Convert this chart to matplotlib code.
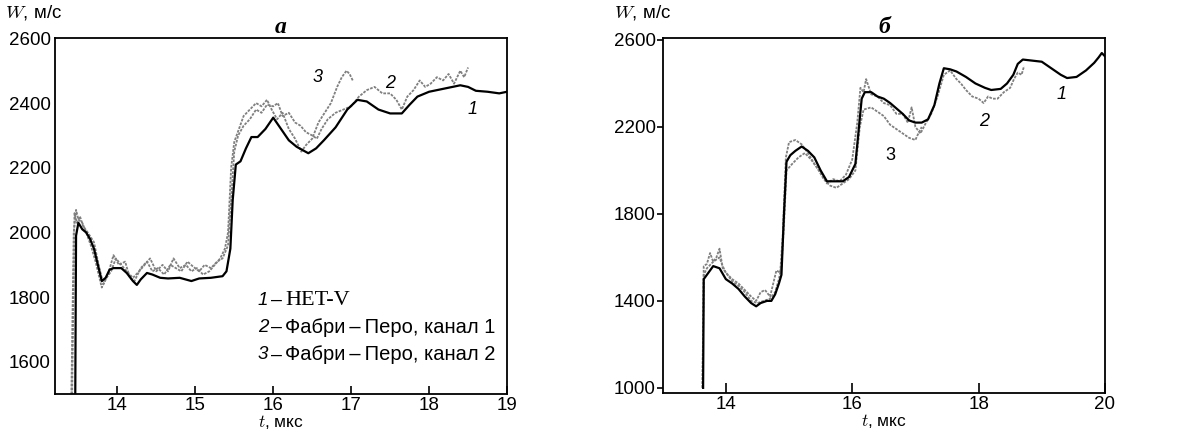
import numpy as np
import matplotlib.pyplot as plt

plt.rcParams['font.family'] = ['Liberation Sans', 'DejaVu Sans']
plt.rcParams['mathtext.fontset'] = 'cm'

# ---- panel a ----
t1a = [13.46, 13.47, 13.5, 13.55, 13.6, 13.65, 13.7, 13.75, 13.8, 13.85,
       13.9, 13.95, 14.05, 14.12, 14.2, 14.25, 14.3, 14.38, 14.45, 14.55,
       14.65, 14.8, 14.95, 15.05, 15.2, 15.35, 15.4, 15.45, 15.48, 15.52,
       15.58, 15.65, 15.72, 15.8, 15.9, 16.0, 16.1, 16.2, 16.3, 16.45,
       16.55, 16.65, 16.8, 16.95, 17.08, 17.2, 17.35, 17.5, 17.65, 17.75,
       17.85, 18.0, 18.2, 18.4, 18.5, 18.6, 18.75, 18.9, 19.0]
W1a = [1500, 1990, 2030, 2010, 2000, 1980, 1950, 1900, 1850, 1860,
       1885, 1890, 1890, 1875, 1850, 1838, 1855, 1875, 1870, 1860,
       1858, 1860, 1850, 1858, 1860, 1865, 1880, 1950, 2100, 2210,
       2220, 2260, 2295, 2295, 2320, 2355, 2320, 2285, 2265, 2245,
       2260, 2285, 2325, 2380, 2410, 2405, 2380, 2368, 2368, 2395,
       2420, 2435, 2445, 2455, 2450, 2438, 2435, 2430, 2435]

t2a = [13.42, 13.45, 13.48, 13.52, 13.56, 13.62, 13.7, 13.76, 13.82, 13.88,
       13.95, 14.02, 14.1, 14.16, 14.22, 14.3, 14.38, 14.45, 14.52, 14.6,
       14.68, 14.75, 14.82, 14.9, 14.97, 15.05, 15.12, 15.2, 15.28, 15.35,
       15.42, 15.46, 15.5, 15.55, 15.62, 15.7, 15.78, 15.85, 15.92, 16.0,
       16.06, 16.12, 16.2, 16.28, 16.35, 16.42, 16.5, 16.56, 16.62, 16.7,
       16.8, 16.9, 17.0, 17.1, 17.2, 17.3, 17.4, 17.5, 17.58, 17.65,
       17.72, 17.8, 17.88, 17.95, 18.02, 18.1, 18.18, 18.25, 18.32, 18.4, 18.45, 18.5]
W2a = [1500, 2060, 2030, 2050, 2020, 2000, 1970, 1900, 1840, 1870,
       1930, 1900, 1910, 1860, 1850, 1890, 1910, 1880, 1890, 1870,
       1900, 1890, 1880, 1910, 1895, 1880, 1900, 1890, 1910, 1920,
       1960, 2100, 2250, 2300, 2330, 2350, 2380, 2370, 2395, 2390,
       2400, 2360, 2370, 2340, 2330, 2310, 2300, 2290, 2320, 2350,
       2370, 2380, 2390, 2420, 2440, 2450, 2430, 2430, 2410, 2380,
       2420, 2440, 2470, 2450, 2460, 2480, 2470, 2490, 2460, 2500, 2480, 2510]

t3a = [13.41, 13.44, 13.47, 13.5, 13.55, 13.6, 13.66, 13.72, 13.8, 13.86,
       13.92, 13.98, 14.05, 14.12, 14.2, 14.28, 14.35, 14.42, 14.5, 14.58,
       14.65, 14.72, 14.8, 14.88, 14.95, 15.02, 15.1, 15.18, 15.25, 15.32,
       15.38, 15.42, 15.46, 15.5, 15.56, 15.62, 15.7, 15.78, 15.85, 15.92,
       15.98, 16.05, 16.12, 16.2, 16.28, 16.36, 16.42, 16.5, 16.58, 16.66,
       16.74, 16.82, 16.88, 16.94, 16.98, 17.02]
W3a = [1500, 2000, 2070, 2040, 2030, 2000, 1960, 1910, 1830, 1860,
       1880, 1920, 1900, 1880, 1860, 1880, 1900, 1920, 1880, 1900,
       1880, 1920, 1890, 1900, 1880, 1890, 1870, 1880, 1900, 1920,
       1950, 2000, 2200, 2280, 2320, 2360, 2380, 2400, 2390, 2410,
       2380, 2350, 2370, 2320, 2290, 2250, 2270, 2290, 2340, 2370,
       2400, 2450, 2480, 2500, 2490, 2470]

# ---- panel b ----
t1b = [13.64, 13.65, 13.7, 13.8, 13.9, 14.0, 14.1, 14.2, 14.3, 14.4,
       14.48, 14.55, 14.65, 14.72, 14.78, 14.84, 14.88, 14.92, 14.96, 15.02,
       15.1, 15.2, 15.3, 15.4, 15.5, 15.6, 15.7, 15.85, 15.95, 16.05,
       16.1, 16.15, 16.2, 16.3, 16.4, 16.5, 16.6, 16.7, 16.8, 16.9,
       17.0, 17.1, 17.2, 17.3, 17.38, 17.45, 17.55, 17.65, 17.8, 17.95,
       18.1, 18.2, 18.35, 18.45, 18.55, 18.62, 18.7, 18.85, 19.0, 19.15,
       19.3, 19.4, 19.55, 19.7, 19.83, 19.9, 19.95, 20.0]
W1b = [1000, 1500, 1520, 1560, 1550, 1500, 1480, 1455, 1420, 1390,
       1375, 1390, 1400, 1400, 1430, 1480, 1520, 1800, 2040, 2070,
       2090, 2110, 2090, 2060, 2000, 1950, 1950, 1950, 1970, 2030,
       2180, 2330, 2360, 2360, 2340, 2330, 2310, 2285, 2260, 2230,
       2220, 2220, 2235, 2300, 2400, 2470, 2465, 2455, 2430, 2400,
       2380, 2370, 2375, 2400, 2440, 2490, 2510, 2505, 2500, 2470,
       2440, 2425, 2430, 2460, 2495, 2520, 2540, 2525]

t2b = [13.63, 13.65, 13.7, 13.75, 13.8, 13.85, 13.9, 13.95, 14.0, 14.1,
       14.2, 14.3, 14.4, 14.48, 14.55, 14.62, 14.7, 14.75, 14.8, 14.86,
       14.9, 14.95, 15.0, 15.1, 15.2, 15.3, 15.4, 15.5, 15.6, 15.7,
       15.8, 15.9, 16.0, 16.08, 16.13, 16.18, 16.22, 16.3, 16.4, 16.5,
       16.6, 16.7, 16.8, 16.88, 16.94, 17.0, 17.08, 17.15, 17.25, 17.35,
       17.45, 17.55, 17.65, 17.72, 17.8, 17.9, 18.0, 18.08, 18.15, 18.22,
       18.3, 18.4, 18.5, 18.56, 18.62, 18.68, 18.72]
W2b = [1000, 1560, 1570, 1620, 1580, 1600, 1640, 1550, 1530, 1500,
       1480, 1450, 1420, 1400, 1440, 1450, 1420, 1480, 1540, 1530,
       1700, 2060, 2130, 2140, 2120, 2080, 2030, 1990, 1940, 1960,
       1950, 1980, 2050, 2220, 2380, 2360, 2420, 2350, 2340, 2310,
       2300, 2260, 2260, 2220, 2290, 2200, 2170, 2210, 2260, 2340,
       2440, 2460, 2420, 2400, 2370, 2340, 2330, 2310, 2340, 2330,
       2330, 2360, 2380, 2420, 2450, 2440, 2480]

t3b = [13.63, 13.65, 13.7, 13.8, 13.9, 13.95, 14.0, 14.1, 14.2, 14.3,
       14.4, 14.5, 14.6, 14.7, 14.78, 14.84, 14.88, 14.92, 14.96, 15.05,
       15.15, 15.25, 15.35, 15.45, 15.55, 15.65, 15.75, 15.85, 15.95, 16.05,
       16.12, 16.18, 16.3, 16.4, 16.5, 16.6, 16.7, 16.8, 16.9, 17.0,
       17.03, 17.1]
W3b = [1000, 1520, 1550, 1580, 1600, 1560, 1530, 1490, 1470, 1440,
       1400, 1390, 1400, 1410, 1440, 1500, 1560, 1750, 2000, 2030,
       2060, 2080, 2050, 2010, 1960, 1930, 1920, 1940, 1960, 2000,
       2200, 2280, 2290, 2270, 2250, 2210, 2190, 2170, 2150, 2140,
       2160, 2200]

legend_lines = ["HET-V", "Фабри\u2009\u2013\u2009Перо, канал 1", "Фабри\u2009\u2013\u2009Перо, канал 2"]

fig = plt.figure(figsize=(11.88, 4.33), dpi=100)
axa = fig.add_axes([0.0463, 0.0894, 0.3805, 0.822])
axb = fig.add_axes([0.5578, 0.0917, 0.3723, 0.821])

gray = dict(color='0.5', lw=1.3, ls=(0, (1.5, 0.7)))
black = dict(color='black', lw=1.6)

axa.plot(t3a, W3a, **gray)
axa.plot(t2a, W2a, **gray)
axa.plot(t1a, W1a, **black)
axb.plot(t3b, W3b, **gray)
axb.plot(t2b, W2b, **gray)
axb.plot(t1b, W1b, **black)

axa.set_xlim(13.2, 19)
axa.set_ylim(1500, 2600)
axa.set_xticks([14, 15, 16, 17, 18, 19])
axa.set_yticks([1600, 1800, 2000, 2200, 2400, 2600])
axa.tick_params(axis='x', direction='in', length=6, width=1.2, labelsize=13.5, pad=2)
axa.tick_params(axis='y', length=0, labelsize=13.5, pad=3)

axb.set_xlim(13, 20)
axb.set_ylim(975, 2610)
axb.set_xticks([14, 16, 18, 20])
axb.set_yticks([1000, 1400, 1800, 2200, 2600])
axb.tick_params(axis='x', direction='in', length=7, width=1.2, labelsize=13.5, pad=2)
axb.tick_params(axis='y', direction='out', length=4, width=1.2, labelsize=13.5, pad=1)

for ax in (axa, axb):
    for s in ax.spines.values():
        s.set_linewidth(1.3)
    ax.set_xlabel(r'$t$, мкс', fontsize=12.5, labelpad=-1)
    ax.text(-0.11, 1.045, r'$W$, м/с', transform=ax.transAxes, fontsize=13.5, ha='left', va='bottom')

axa.set_title('а', fontfamily='Liberation Serif', style='italic', weight='bold', fontsize=17, pad=2)
axb.set_title('б', fontfamily='Liberation Serif', style='italic', weight='bold', fontsize=17, pad=2)

# curve numbers
axa.text(16.57, 2480, '3', style='italic', fontsize=13, ha='center', va='center')
axa.text(17.5, 2460, '2', style='italic', fontsize=13, ha='center', va='center')
axa.text(18.56, 2380, '1', style='italic', fontsize=13, ha='center', va='center')
axb.text(19.31, 2350, '1', style='italic', fontsize=13, ha='center', va='center')
axb.text(18.08, 2227, '2', style='italic', fontsize=13, ha='center', va='center')
axb.text(16.6, 2067, '3', fontsize=13, ha='center', va='center')

# legend text in panel a
ly = [1790, 1706, 1622]
for i, (y, lab) in enumerate(zip(ly, legend_lines)):
    axa.text(15.87, y, str(i + 1), style='italic', fontsize=13.5, ha='center', va='center')
    axa.text(16.04, y, '\u2013', fontsize=14, ha='center', va='center')
    fam = 'Liberation Serif' if i == 0 else 'Liberation Sans'
    axa.text(16.15, y, lab, fontsize=16 if i == 0 else 14.5, fontfamily=fam, ha='left', va='center')

plt.savefig('out.png', dpi=100)
